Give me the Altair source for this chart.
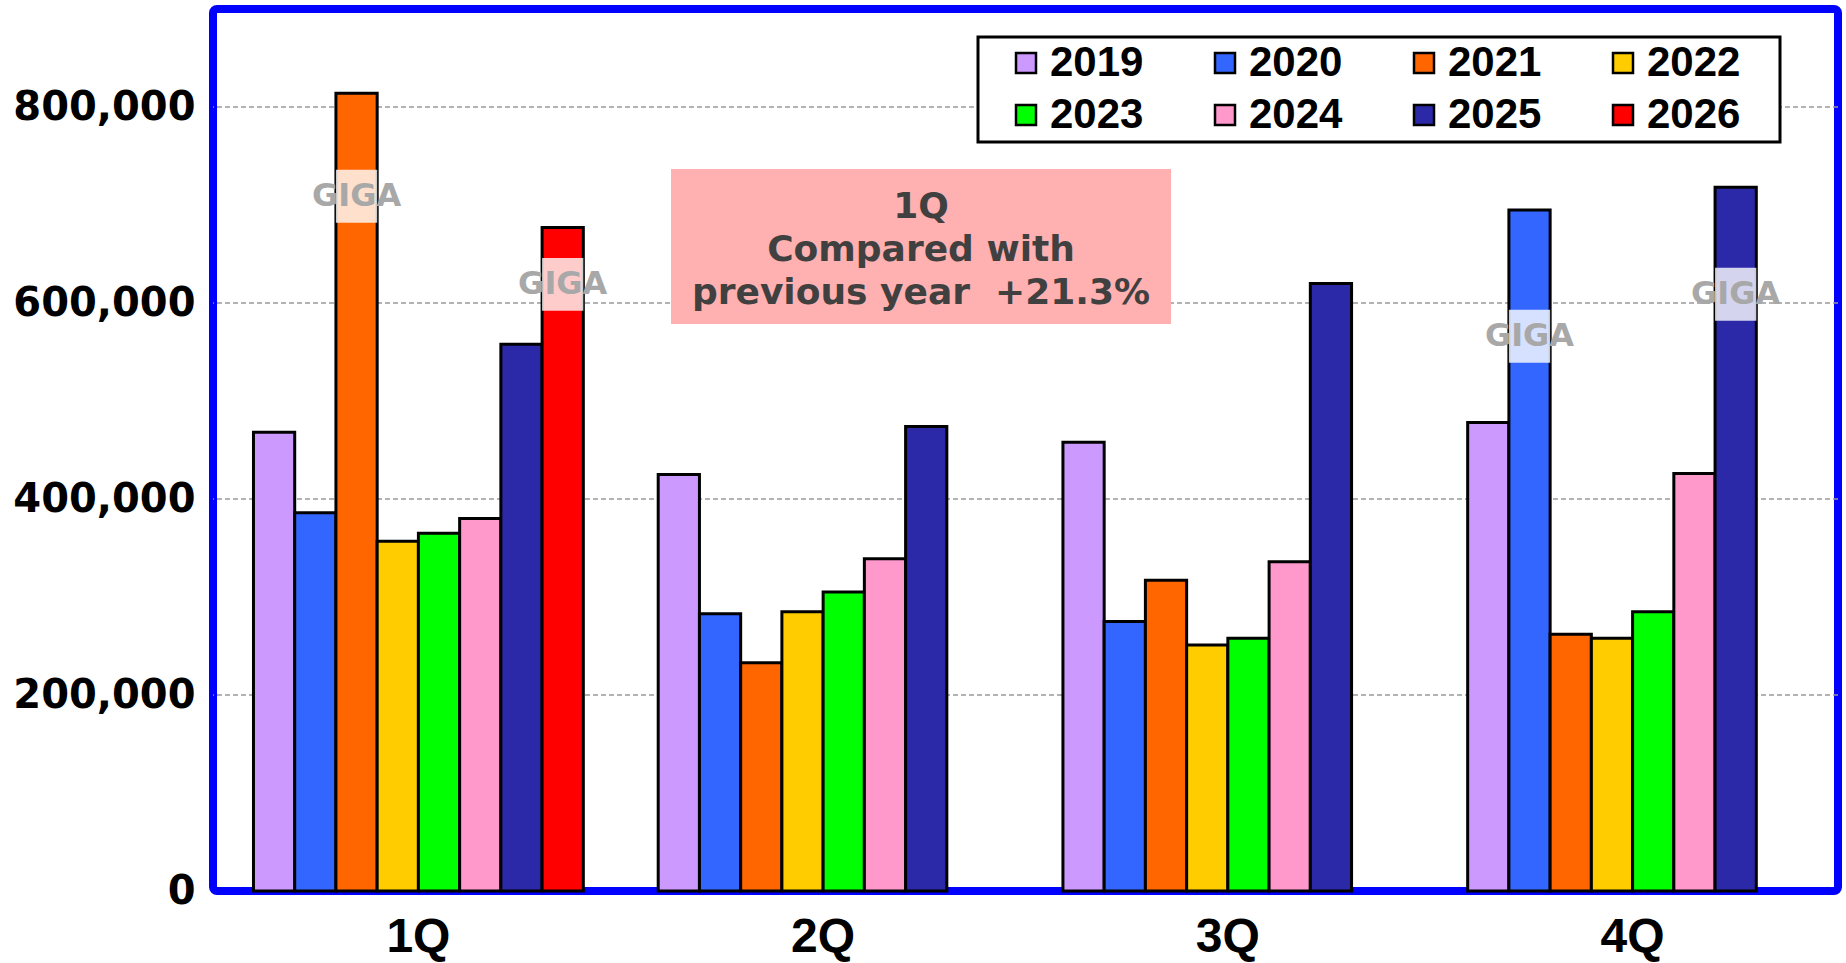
import altair as alt
import pandas as pd

# Quarterly shipments by year
quarters = ["1Q", "2Q", "3Q", "4Q"]
years = ["2019", "2020", "2021", "2022", "2023", "2024", "2025", "2026"]
year_colors = ["#cc99ff", "#3366ff", "#ff6600", "#ffcc00",
               "#00ff00", "#ff99cc", "#2b29a8", "#ff0000"]

sales_2019 = [468000, 425000, 458000, 478000]
sales_2020 = [386000, 283000, 275000, 695000]
sales_2021 = [814000, 233000, 317000, 262000]
sales_2022 = [357000, 285000, 251000, 258000]
sales_2023 = [365000, 305000, 258000, 285000]
sales_2024 = [380000, 339000, 336000, 426000]
sales_2025 = [558000, 474000, 620000, 718000]
sales_2026 = [677000]

# "GIGA" watermark stamps: quarter, year and the level they sit at
giga_quarter = ["1Q", "1Q", "4Q", "4Q"]
giga_year = ["2021", "2026", "2020", "2025"]
giga_level = [709000, 619000, 566000, 609000]

tick_values = [0, 200000, 400000, 600000, 800000]
grid_values = [200000, 400000, 600000, 800000]

series = [sales_2019, sales_2020, sales_2021, sales_2022,
          sales_2023, sales_2024, sales_2025, sales_2026]
rows = []
for yr, vals in zip(years, series):
    for q, v in zip(quarters, vals):
        rows.append({"quarter": q, "year": yr, "value": v})
df = pd.DataFrame(rows)

growth = (sales_2026[0] / sales_2025[0] - 1) * 100
note_lines = ["1Q", "Compared with", f"previous year\u00a0 +{growth:.1f}%"]

giga = pd.DataFrame({"quarter": giga_quarter, "year": giga_year, "level": giga_level})
giga["lo"] = giga["level"] - 27000
giga["hi"] = giga["level"] + 27000

BOLD = "Liberation Sans"
ROUND = "DejaVu Sans"

x_enc = alt.X(
    "quarter:N", sort=quarters,
    scale=alt.Scale(domain=quarters, paddingInner=0.185, paddingOuter=0.1),
    axis=alt.Axis(title=None, labelAngle=0, labelFont=BOLD, labelFontWeight="bold",
                  labelFontSize=48, labelColor="black", labelPadding=22,
                  ticks=False, domain=False, grid=False),
)
xoff_enc = alt.XOffset(
    "year:N", sort=years,
    scale=alt.Scale(domain=years, paddingInner=0, paddingOuter=0),
)
y_scale = alt.Scale(domain=[0, 900000], nice=False)

# dashed horizontal gridlines (none at zero, where the frame sits)
grid = alt.Chart(pd.DataFrame({"g": grid_values})).mark_rule(
    color="#999999", strokeDash=[5, 3], strokeWidth=1.5
).encode(y=alt.Y("g:Q", scale=y_scale))

bars = alt.Chart(df).mark_bar(stroke="black", strokeWidth=3).encode(
    x=x_enc,
    xOffset=xoff_enc,
    y=alt.Y("value:Q", scale=y_scale,
            axis=alt.Axis(title=None, values=tick_values, format=",d",
                          labelFont=ROUND, labelFontWeight="bold", labelFontSize=40,
                          labelColor="black", labelPadding=18, labelLimit=400,
                          ticks=False, domain=False, grid=False)),
    color=alt.Color(
        "year:N",
        scale=alt.Scale(domain=years, range=year_colors),
        legend=alt.Legend(
            title=None, orient="none", legendX=792, legendY=33,
            columns=4, direction="horizontal", symbolType="square",
            symbolSize=400, symbolStrokeColor="black", symbolStrokeWidth=2.5,
            symbolOpacity=1, labelFont=BOLD, labelFontWeight="bold",
            labelFontSize=42, labelColor="black", labelOffset=3,
            columnPadding=60, rowPadding=10, padding=0,
        ),
    ),
)

legend_box = alt.Chart(pd.DataFrame({"k": [0]})).mark_rect(
    fill="white", stroke="black", strokeWidth=3
).encode(x=alt.value(765), x2=alt.value(1567), y=alt.value(28), y2=alt.value(133))

note_box = alt.Chart(pd.DataFrame({"k": [0]})).mark_rect(
    fill="#ffb0b0"
).encode(x=alt.value(458), x2=alt.value(958), y=alt.value(160), y2=alt.value(315))

note_text = alt.Chart(pd.DataFrame({"k": [0]})).mark_text(
    text=note_lines, font=ROUND, fontWeight="bold", fontSize=36,
    color="#404040", lineHeight=43, align="center", baseline="middle",
).encode(x=alt.value(708), y=alt.value(198))

giga_band = alt.Chart(giga).mark_bar(color="white", opacity=0.8).encode(
    x=alt.X("quarter:N", sort=quarters),
    xOffset=alt.XOffset("year:N", sort=years),
    y=alt.Y("lo:Q", scale=y_scale),
    y2="hi:Q",
)
giga_text = alt.Chart(giga).mark_text(
    text="GIGA", font=ROUND, fontWeight="bold", fontSize=32,
    color="#a8a8a8", align="center", baseline="middle",
).encode(
    x=alt.X("quarter:N", sort=quarters),
    xOffset=alt.XOffset("year:N", sort=years),
    y=alt.Y("level:Q", scale=y_scale),
)

chart = alt.layer(
    grid, legend_box, note_box, note_text, bars, giga_band, giga_text
).properties(
    width=1625, height=882,
    padding={"left": 213, "top": 9, "right": 8, "bottom": 72},
    autosize=alt.AutoSizeParams(type="none"),
    background="white",
).configure_view(
    stroke="#0000ff", strokeWidth=8, cornerRadius=4,
)

chart.save("out.html", embed_options={"renderer": "svg", "actions": False})
